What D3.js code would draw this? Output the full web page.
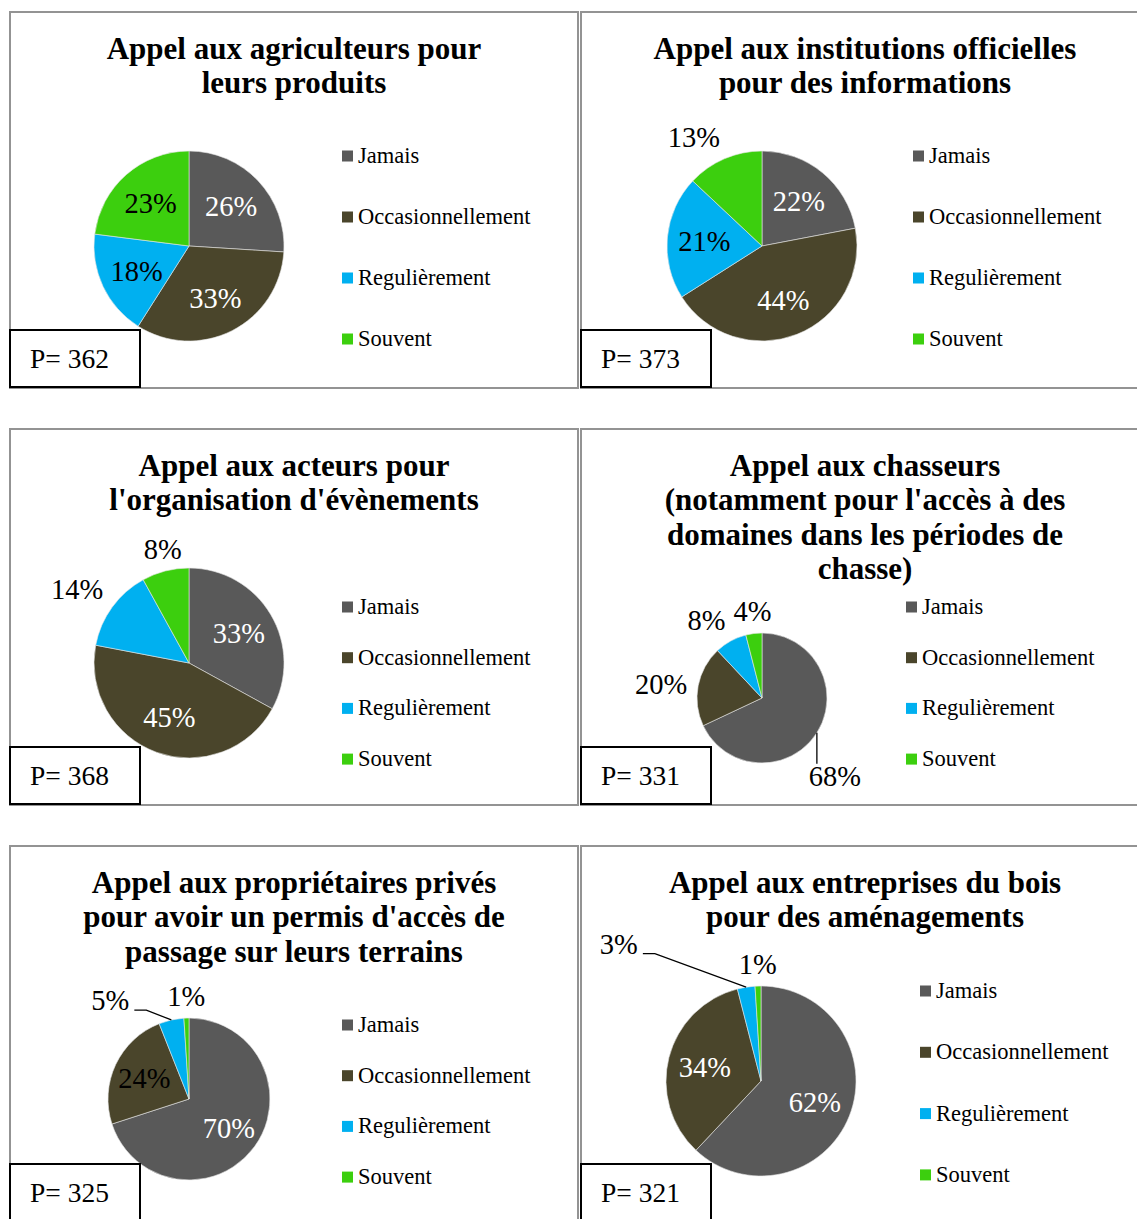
<!DOCTYPE html>
<html>
<head>
<meta charset="utf-8">
<script src="https://cdn.jsdelivr.net/npm/d3@7"></script>
<style>
  body { margin: 0; background: #fff; }
  svg { display: block; font-family: "Liberation Serif", "Times New Roman", serif; }
</style>
</head>
<body>
<svg id="chart" width="1137" height="1219"></svg>
<script>
// data
var categories = ["Jamais", "Occasionnellement", "Regulièrement", "Souvent"];

var titles = [
	["Appel aux agriculteurs pour", "leurs produits"],
	["Appel aux institutions officielles", "pour des informations"],
	["Appel aux acteurs pour", "l'organisation d'évènements"],
	["Appel aux chasseurs", "(notamment pour l'accès à des", "domaines dans les périodes de", "chasse)"],
	["Appel aux propriétaires privés", "pour avoir un permis d'accès de", "passage sur leurs terrains"],
	["Appel aux entreprises du bois", "pour des aménagements"]
];

var sampleSizes = [362, 373, 368, 331, 325, 321];

var agriculteurs = [26, 33, 18, 23];
var institutions = [22, 44, 21, 13];
var acteurs      = [33, 45, 14, 8];
var chasseurs    = [68, 20, 8, 4];
var proprietaires = [70, 24, 5, 1];
var entreprises  = [62, 34, 3, 1];

var series = [agriculteurs, institutions, acteurs, chasseurs, proprietaires, entreprises];

// styles and layout
var colors = ["#595959", "#4a452b", "#00b0f0", "#3ccf0e"];

var panelW = 568, panelH = 376;

var layout = [
	{ x: 10,  y: 12,  cx: 179, cy: 234, r: 95, legX: 332, legY: 144, step: 61,   out: [] },
	{ x: 581, y: 12,  cx: 181, cy: 234, r: 95, legX: 332, legY: 144, step: 61,   out: [3] },
	{ x: 10,  y: 429, cx: 179, cy: 234, r: 95, legX: 332, legY: 178, step: 50.7, out: [2, 3] },
	{ x: 581, y: 429, cx: 181, cy: 269, r: 65, legX: 325, legY: 178, step: 50.7, out: [1, 2, 3],
	  callouts: { 0: [136.9, 1.64] } },
	{ x: 10,  y: 846, cx: 179, cy: 253, r: 81, legX: 332, legY: 179, step: 50.7, out: [3],
	  callouts: { 2: [321.5, 1.56] }, darkInside: [1] },
	{ x: 581, y: 846, cx: 180, cy: 235, r: 95, legX: 339, legY: 145, step: 61.3, out: [3],
	  callouts: { 2: [314, 2.08] } }
];

var svg = d3.select("#chart");
svg.append("rect").attr("width", 1137).attr("height", 1219).attr("fill", "#fff");

var pie = d3.pie().sort(null).value(function(d){ return d; });
var color = d3.scaleOrdinal().domain(categories).range(colors);

function polar(a, d) {
	return [Math.sin(a) * d, -Math.cos(a) * d];
}

series.forEach(function(vals, i){
	var L = layout[i];
	var g = svg.append("g").attr("transform", "translate(" + L.x + "," + L.y + ")");

	// panel frame
	g.append("rect")
		.attr("x", 0).attr("y", 0)
		.attr("width", panelW).attr("height", panelH)
		.attr("fill", "#fff")
		.attr("stroke", "#939393")
		.attr("stroke-width", 2);

	// title
	g.append("text")
		.attr("text-anchor", "middle")
		.attr("font-weight", "bold")
		.attr("font-size", 31)
		.attr("fill", "#000")
		.selectAll("tspan")
		.data(titles[i]).enter().append("tspan")
		.attr("x", panelW / 2)
		.attr("y", function(d, k){ return 47 + k * 34.3; })
		.text(function(d){ return d; });

	// pie
	var arcs = pie(vals);
	var arc = d3.arc().innerRadius(0).outerRadius(L.r);
	var labelArc = d3.arc().innerRadius(0).outerRadius(L.r * 1.22);

	var pg = g.append("g").attr("transform", "translate(" + L.cx + "," + L.cy + ")");

	pg.selectAll("path")
		.data(arcs).enter().append("path")
		.attr("d", arc)
		.attr("fill", function(d, k){ return color(categories[k]); })
		.attr("stroke", "#e6e6e6")
		.attr("stroke-width", 0.6);

	// data labels
	arcs.forEach(function(d, k){
		var txt = d.data + "%";
		var mid = (d.startAngle + d.endAngle) / 2;
		var t = pg.append("text").attr("font-size", 28.5).text(txt);

		if (L.callouts && L.callouts[k]) {
			var c = L.callouts[k];
			var p = polar(c[0] * Math.PI / 180, c[1] * L.r);
			t.attr("x", p[0]).attr("y", p[1]).attr("dy", "0.35em")
				.attr("text-anchor", "middle").attr("fill", "#000");
			var bb = t.node().getBBox();
			var e = polar(mid, L.r);
			var pts;
			if (e[0] >= bb.x - 10 && e[0] <= bb.x + bb.width) {
				pts = [e, [e[0], bb.y + 3]];
			} else {
				var end = [bb.x + bb.width + 5, bb.y + bb.height - 6];
				pts = [e, [end[0] + 12, end[1]], end];
			}
			pg.append("path")
				.attr("d", d3.line()(pts))
				.attr("fill", "none")
				.attr("stroke", "#000")
				.attr("stroke-width", 1.3);
		} else if (L.out.indexOf(k) >= 0) {
			var q = polar(mid, L.r + 11);
			var s = Math.sin(mid), co = Math.cos(mid);
			t.attr("x", q[0]).attr("y", q[1])
				.attr("text-anchor", s > 0.3 ? "start" : (s < -0.3 ? "end" : "middle"))
				.attr("dy", co > 0.5 ? "-0.05em" : (co < -0.5 ? "0.75em" : "0.35em"))
				.attr("fill", "#000");
		} else {
			var cpos = labelArc.centroid(d);
			var dark = k >= 2 || (L.darkInside && L.darkInside.indexOf(k) >= 0);
			t.attr("x", cpos[0]).attr("y", cpos[1]).attr("dy", "0.35em")
				.attr("text-anchor", "middle")
				.attr("fill", dark ? "#000" : "#fff");
		}
	});

	// legend
	var leg = g.selectAll(".leg")
		.data(categories).enter().append("g")
		.attr("transform", function(d, k){ return "translate(" + L.legX + "," + (L.legY + k * L.step) + ")"; });

	leg.append("rect")
		.attr("x", 0).attr("y", -5.5)
		.attr("width", 11).attr("height", 11)
		.attr("fill", function(d){ return color(d); });

	leg.append("text")
		.attr("x", 16).attr("y", 7)
		.attr("font-size", 22.5)
		.attr("fill", "#000")
		.text(function(d){ return d; });

	// sample size box
	g.append("rect")
		.attr("x", 0).attr("y", 318)
		.attr("width", 130).attr("height", 57)
		.attr("fill", "#fff")
		.attr("stroke", "#000")
		.attr("stroke-width", 2);

	g.append("text")
		.attr("x", 20).attr("y", 356)
		.attr("font-size", 27.5)
		.attr("fill", "#000")
		.text("P= " + sampleSizes[i]);
});
</script>
</body>
</html>
